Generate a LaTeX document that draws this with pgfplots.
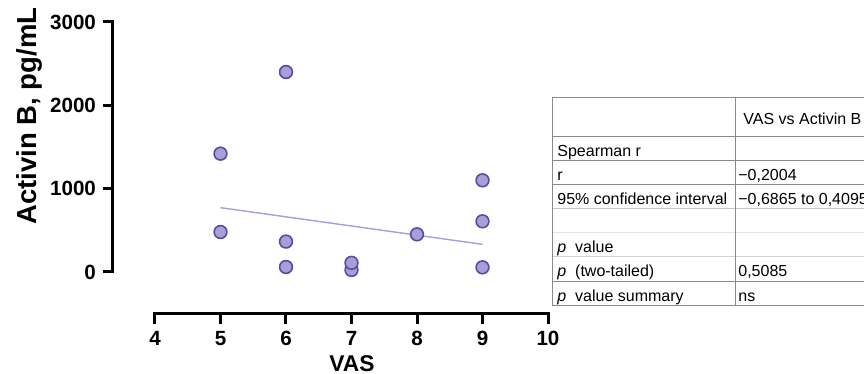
\documentclass[border=0pt]{standalone}
\usepackage{pgfplots}
\pgfplotsset{compat=1.18}
\usepackage{fontspec}
\setmainfont{Liberation Sans}
\definecolor{ptfill}{HTML}{A89FD6}
\definecolor{ptedge}{HTML}{5A4AA5}
\definecolor{regline}{HTML}{A39EDC}
\definecolor{tabline}{HTML}{8A8A8A}
\begin{document}
\begin{tikzpicture}
\useasboundingbox (0,0) rectangle (432pt,187pt);
% y axis with data
\begin{axis}[
  at={(56.5pt,51pt)}, anchor=south west,
  scale only axis, width=217.5pt, height=125pt,
  xmin=3.359, xmax=10, ymin=0, ymax=3000,
  axis x line=none, axis y line=left,
  axis line style={-, line width=1.5pt, line cap=rect},
  ytick={0,1000,2000,3000},
  major tick length=5pt, tick align=outside,
  tick style={line width=1.5pt, black},
  yticklabel style={font=\fontsize{10.3}{12}\selectfont\bfseries},
  /pgf/number format/assume math mode=true,
  scaled y ticks=false, /pgf/number format/1000 sep={},
  clip=false,
]
\addplot[regline, line width=0.7pt] coordinates {(5,772) (9,332)};
\addplot[only marks, mark=*, mark size=3.2pt,
  mark options={fill=ptfill, draw=ptedge, line width=0.8pt}]
  coordinates {(5,1420) (5,480) (6,2400) (6,365) (6,60) (7,25) (7,110) (8,452) (9,1100) (9,608) (9,56)};
\end{axis}
% x axis
\begin{axis}[
  at={(77.5pt,30pt)}, anchor=south west,
  scale only axis, width=196.5pt, height=10pt,
  xmin=4, xmax=10, ymin=0, ymax=1,
  axis y line=none, axis x line=bottom,
  axis line style={-, line width=1.5pt, line cap=rect},
  xtick={4,5,6,7,8,9,10},
  major tick length=5pt, tick align=outside,
  tick style={line width=1.5pt, black},
  xticklabel style={font=\fontsize{10.3}{12}\selectfont\bfseries},
  /pgf/number format/assume math mode=true,
  clip=false,
]
\addplot[draw=none] coordinates {(4,0.5)};
\end{axis}
\node[font=\fontsize{11.4}{13}\selectfont\bfseries, anchor=base] at (176pt,1.2pt) {VAS};
\node[rotate=90, anchor=base, font=\fontsize{13.75}{16}\selectfont\bfseries] at (18.5pt,129pt) {Activin B, pg/mL};
% table
\begin{scope}
\clip (0,0) rectangle (432pt,187pt);
\draw[tabline, line width=0.5pt] (276pt,138pt) -- (440pt,138pt);
\draw[tabline, line width=0.5pt] (276pt,118.5pt) -- (440pt,118.5pt);
\draw[tabline, line width=0.5pt] (276pt,106.5pt) -- (440pt,106.5pt);
\draw[tabline, line width=0.5pt] (276pt,94.5pt) -- (440pt,94.5pt);
\draw[gray!45, line width=0.5pt] (276pt,82.5pt) -- (440pt,82.5pt);
\draw[gray!20, line width=0.5pt] (276pt,70.5pt) -- (440pt,70.5pt);
\draw[gray!35, line width=0.5pt] (276pt,58.5pt) -- (440pt,58.5pt);
\draw[tabline, line width=0.5pt] (276pt,46pt) -- (440pt,46pt);
\draw[tabline, line width=0.5pt] (276pt,34pt) -- (440pt,34pt);
\draw[tabline, line width=0.5pt] (276pt,34pt) -- (276pt,138pt);
\draw[tabline, line width=0.5pt] (367.5pt,34pt) -- (367.5pt,138pt);
\begin{scope}[every node/.style={anchor=west, inner sep=0pt, font=\fontsize{8}{9.6}\selectfont, text height=0.716em, text depth=0pt}]
\node at (371.5pt,128.25pt) {VAS vs Activin B};
\node at (278.5pt,112.5pt) {Spearman r};
\node at (278.5pt,100.5pt) {r};
\node at (369pt,100.5pt) {−0,2004};
\node at (278.5pt,88.5pt) {95\% confidence interval};
\node at (369pt,88.5pt) {−0,6865 to 0,4095};
\node at (278.5pt,64.5pt) {\textit{p}\ \ value};
\node at (278.5pt,52.25pt) {\textit{p}\ \ (two-tailed)};
\node at (369pt,52.25pt) {0,5085};
\node at (278.5pt,40pt) {\textit{p}\ \ value summary};
\node at (369pt,40pt) {ns};
\end{scope}
\end{scope}
\end{tikzpicture}
\end{document}
